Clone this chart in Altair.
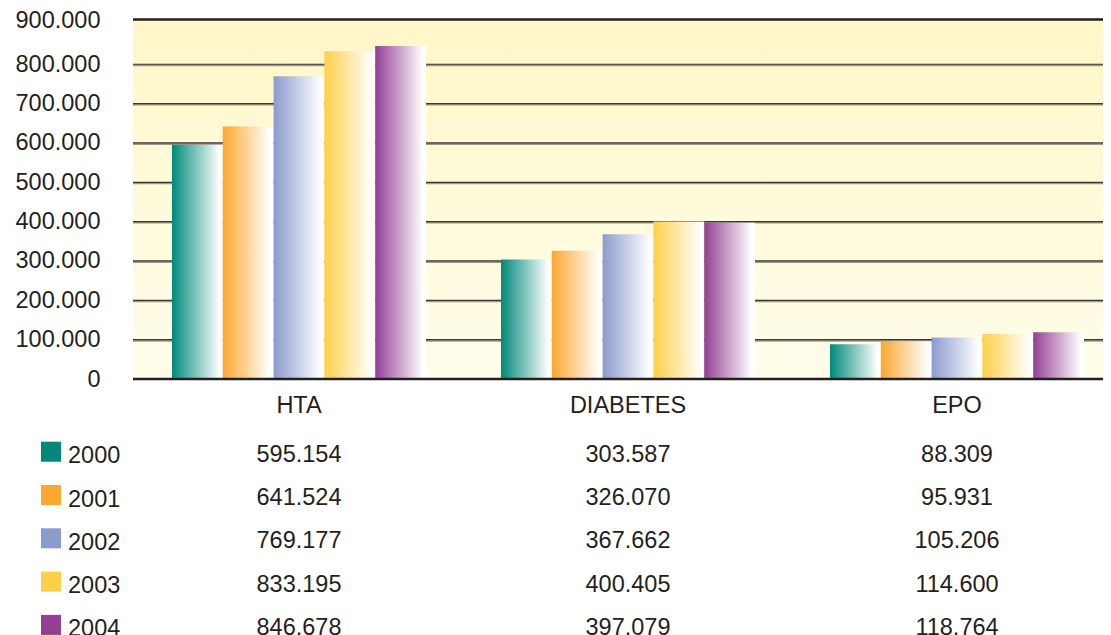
import altair as alt
import pandas as pd

categories = ["HTA", "DIABETES", "EPO"]
years = ["2000", "2001", "2002", "2003", "2004"]
colors = ["#00897A", "#F9A72F", "#8B9BCD", "#FFCF48", "#933F93"]
hta = [595154, 641524, 769177, 833195, 846678]
diabetes = [303587, 326070, 367662, 400405, 397079]
epo = [88309, 95931, 105206, 114600, 118764]
y_ticks = [0, 100000, 200000, 300000, 400000, 500000, 600000, 700000, 800000, 900000]
grid_values = [100000, 200000, 300000, 400000, 500000, 600000, 700000, 800000]

rows = []
for cat, vals in zip(categories, [hta, diabetes, epo]):
    for yr, v in zip(years, vals):
        rows.append({"Category": cat, "Year": yr, "Value": v})
df = pd.DataFrame(rows)

W, H = 970, 360
FONT = "Liberation Sans"
TXT = "#231f20"
FS = 23.5

xscale = alt.Scale(domain=categories, range=[1.5, 988.5], paddingInner=0.228, paddingOuter=0.114)
yscale = alt.Scale(domain=[0, 915000], nice=False, zero=True)
rowscale = alt.Scale(domain=years, range=[442.7, 615.9], padding=0)
xaxis = alt.Axis(domain=False, ticks=False, grid=False, labelPadding=14, labelFontSize=FS,
                 labelFont=FONT, labelColor=TXT, labelAngle=0, title=None)
yaxis = alt.Axis(values=y_ticks, grid=False, domain=False, ticks=False, labelPadding=33,
                 labelFontSize=FS, labelFont=FONT, labelColor=TXT, title=None,
                 labelOffset={"condition": {"test": "datum.value == 900000", "value": -4}, "value": 0},
                 labelExpr="datum.value == 0 ? '0' : format(datum.value / 1000, 'd') + '.000'")

one = pd.DataFrame({"a": [0]})
bg = alt.Chart(one).mark_rect(
    color=alt.LinearGradient(gradient="linear", x1=0, y1=0, x2=0, y2=1,
                             stops=[alt.GradientStop(offset=0, color="#FFF7C8"),
                                    alt.GradientStop(offset=1, color="#FFFDEB")])
).encode(x=alt.value(0), x2=alt.value(W), y=alt.value(0), y2=alt.value(H))

gdf = pd.DataFrame({"v": grid_values})
grid_shadow = alt.Chart(gdf).mark_rule(color="#9c9888", strokeWidth=2, yOffset=1).encode(
    y=alt.Y("v:Q", scale=yscale, axis=None), x=alt.value(0), x2=alt.value(W))
grid_line = alt.Chart(gdf).mark_rule(color="#3a3833", strokeWidth=1.2).encode(
    y=alt.Y("v:Q", scale=yscale, axis=None), x=alt.value(0), x2=alt.value(W))

bar_layers = []
for i, (yr, c) in enumerate(zip(years, colors)):
    grad = alt.LinearGradient(gradient="linear", x1=0, y1=0, x2=1, y2=0,
                              stops=[alt.GradientStop(offset=0, color=c),
                                     alt.GradientStop(offset=0.94, color="#ffffff"),
                                     alt.GradientStop(offset=1, color="#ffffff")])
    bar_layers.append(
        alt.Chart(df).transform_filter(alt.datum.Year == yr).mark_bar(color=grad).encode(
            x=alt.X("Category:N", scale=xscale, axis=xaxis, sort=categories),
            xOffset=alt.XOffset("Year:N", scale=alt.Scale(domain=years, paddingInner=0, paddingOuter=0)),
            y=alt.Y("Value:Q", scale=yscale, axis=yaxis if i == 0 else None),
        )
    )

top_line = alt.Chart(one).mark_rule(color=TXT, strokeWidth=2.6).encode(
    x=alt.value(0), x2=alt.value(W), y=alt.value(0.5))
zero_line = alt.Chart(one).mark_rule(color=TXT, strokeWidth=2.6).encode(
    x=alt.value(0), x2=alt.value(W), y=alt.value(H))

table_vals = alt.Chart(df).transform_calculate(
    label="replace(format(datum.Value, ','), ',', '.')"
).mark_text(font=FONT, fontSize=FS, color=TXT, baseline="alphabetic", align="center").encode(
    x=alt.X("Category:N", scale=xscale, axis=xaxis, sort=categories),
    y=alt.Y("Year:O", scale=rowscale, axis=None),
    text="label:N",
)

leg_df = pd.DataFrame({"Year": years})
leg_sq = alt.Chart(leg_df).mark_square(size=400, opacity=1, filled=True, yOffset=-10).encode(
    x=alt.value(-82),
    y=alt.Y("Year:O", scale=rowscale, axis=None),
    color=alt.Color("Year:N", scale=alt.Scale(domain=years, range=colors), legend=None),
)
leg_txt = alt.Chart(leg_df).mark_text(font=FONT, fontSize=FS, color=TXT, baseline="alphabetic",
                                      align="left", dy=1.5).encode(
    x=alt.value(-65),
    y=alt.Y("Year:O", scale=rowscale, axis=None),
    text="Year:N",
)

chart = alt.layer(
    bg, grid_shadow, grid_line, *bar_layers, top_line, zero_line, table_vals, leg_sq, leg_txt
).resolve_scale(y="independent").properties(
    width=W, height=H,
    autosize=alt.AutoSizeParams(type="none"),
    padding={"left": 125, "top": 11, "right": 0, "bottom": 256},
    background="white",
).configure_view(strokeWidth=0)

chart.save("out.html", embed_options={"renderer": "svg", "actions": False})
